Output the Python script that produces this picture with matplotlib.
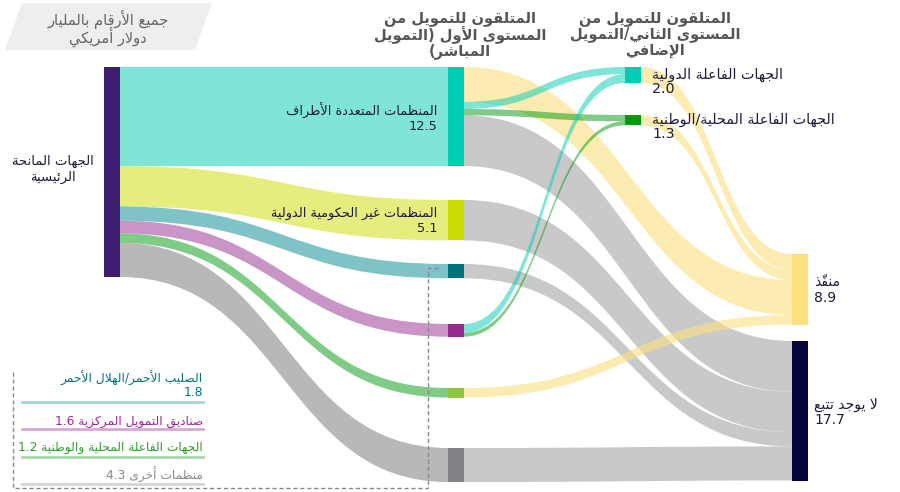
import matplotlib.pyplot as plt
from matplotlib.patches import PathPatch, Polygon, Rectangle
from matplotlib.path import Path

plt.rcParams["font.family"] = ["DejaVu Sans"]

# ---------------- data ----------------
unit_note = "جميع الأرقام بالمليار\nدولار أمريكي"
col_titles = [
    "المتلقون للتمويل من\nالمستوى الأول (التمويل\nالمباشر)",
    "المتلقون للتمويل من\nالمستوى الثاني/التمويل\nالإضافي",
]
node_names = [
    "الجهات المانحة\nالرئيسية",
    "المنظمات المتعددة الأطراف",
    "المنظمات غير الحكومية الدولية",
    "الصليب الأحمر/الهلال الأحمر",
    "صناديق التمويل المركزية",
    "الجهات الفاعلة المحلية والوطنية",
    "منظمات أخرى",
    "الجهات الفاعلة الدولية",
    "الجهات الفاعلة المحلية/الوطنية",
    "منفّذ",
    "لا يوجد تتبع",
]
node_values = [26.5, 12.5, 5.1, 1.8, 1.6, 1.2, 4.3, 2.0, 1.3, 8.9, 17.7]
# (source, target, value)
flows = [
    (0, 1, 12.5), (0, 2, 5.1), (0, 3, 1.8), (0, 4, 1.6), (0, 5, 1.2), (0, 6, 4.3),
    (1, 9, 4.4), (1, 7, 0.9), (1, 8, 0.8), (1, 10, 6.4),
    (2, 10, 5.1),
    (3, 10, 1.8),
    (4, 7, 1.1), (4, 8, 0.5),
    (5, 9, 1.2),
    (6, 10, 4.3),
    (7, 9, 2.0),
    (8, 9, 1.3),
]

# ---------------- layout / style ----------------
node_col = [0, 1, 1, 1, 1, 1, 1, 2, 2, 3, 3]
node_top = [67, 67, 200, 264, 324, 388, 448, 67, 115, 254, 341]
col_x = [104, 448, 625, 792]
node_w = 16
node_colors = ["#3c1f6e", "#00cdb4", "#cddc00", "#00737e", "#952a8e", "#8cc63f",
               "#828387", "#00cdb4", "#009a0e", "#fde07d", "#05053a"]
YEL, GRY, TEAL, GRN = "#fde07d", "#a5a5a8", "#00cdb4", "#009a0e"
flow_colors = ["#00cdb4", "#cddc00", "#00898f", "#952a8e", "#009a0e", "#727276",
               YEL, TEAL, GRN, GRY, GRY, GRY, TEAL, GRN, YEL, GRY, YEL, YEL]
alpha_of = {YEL: 0.6, GRY: 0.6}
z_of = {GRY: 2, YEL: 3, TEAL: 4, GRN: 4}
TXT = "#1b1b3a"

# ---------------- Arabic shaping (no bidi in matplotlib) ----------------
_codes = {'ء': 0xFE80, 'آ': 0xFE81, 'أ': 0xFE83, 'ؤ': 0xFE85, 'إ': 0xFE87, 'ئ': 0xFE89,
          'ا': 0xFE8D, 'ب': 0xFE8F, 'ة': 0xFE93, 'ت': 0xFE95, 'ث': 0xFE99, 'ج': 0xFE9D,
          'ح': 0xFEA1, 'خ': 0xFEA5, 'د': 0xFEA9, 'ذ': 0xFEAB, 'ر': 0xFEAD, 'ز': 0xFEAF,
          'س': 0xFEB1, 'ش': 0xFEB5, 'ص': 0xFEB9, 'ض': 0xFEBD, 'ط': 0xFEC1, 'ظ': 0xFEC5,
          'ع': 0xFEC9, 'غ': 0xFECD, 'ف': 0xFED1, 'ق': 0xFED5, 'ك': 0xFED9, 'ل': 0xFEDD,
          'م': 0xFEE1, 'ن': 0xFEE5, 'ه': 0xFEE9, 'و': 0xFEED, 'ى': 0xFEEF, 'ي': 0xFEF1}
_dual = set("ئبتثجحخسشصضطظعغفقكلمنهي")
_right = set("آأؤإادذرزوىة")
_lamalef = {'آ': 0xFEF5, 'أ': 0xFEF7, 'إ': 0xFEF9, 'ا': 0xFEFB}
_marks = set("\u064B\u064C\u064D\u064E\u064F\u0650\u0651\u0652")


def ar(line):
    units = []
    i = 0
    while i < len(line):
        c = line[i]
        if c in _marks and units:
            units[-1][2] += c
        elif c == 'ل' and i + 1 < len(line) and line[i + 1] in _lamalef:
            units.append(['R', _lamalef[line[i + 1]], ''])
            i += 1
        elif c in _codes:
            kind = 'D' if c in _dual else ('R' if c in _right else 'N')
            units.append([kind, _codes[c], ''])
        else:
            units.append(['X', c, ''])
        i += 1
    out = []
    for k, (kind, base, mk) in enumerate(units):
        if kind == 'X':
            out.append(base + mk)
            continue
        jp = k > 0 and units[k - 1][0] == 'D'
        jn = kind == 'D' and k + 1 < len(units) and units[k + 1][0] in 'DR'
        if kind == 'N':
            off = 0
        elif kind == 'R':
            off = 1 if jp else 0
        else:
            off = [[0, 2], [1, 3]][jp][jn]
        # mark placed before its base in visual (left-to-right) order
        out.append(mk + chr(base + off))
    out.reverse()
    res, run = [], []
    for g in out:
        if g[0].isdigit() or (g == '.' and run):
            run.append(g)
        else:
            if run:
                res.extend(reversed(run))
                run = []
            res.append({'(': ')', ')': '('}.get(g, g))
    res.extend(reversed(run))
    return ''.join(res)


def lines(x, y, text, dy, **kw):
    for k, ln in enumerate(text.split("\n")):
        ax.text(x, y + k * dy, ar(ln), va="center", **kw)


# ---------------- figure ----------------
fig = plt.figure(figsize=(9, 4.92), dpi=100)
ax = fig.add_axes([0, 0, 1, 1])
ax.set_xlim(0, 900)
ax.set_ylim(492, 0)
ax.axis("off")

scale = 210 / node_values[0]
n = len(node_values)
out_off = [0.0] * n
in_off = [0.0] * n
src_y = []
for s, t, v in flows:
    src_y.append(node_top[s] + out_off[s])
    out_off[s] += v * scale
tgt_y = [0.0] * len(flows)
for t in range(n):
    idx = [i for i, f in enumerate(flows) if f[1] == t]
    idx.sort(key=lambda i: (-node_col[flows[i][0]], node_top[flows[i][0]]))
    for i in idx:
        tgt_y[i] = node_top[t] + in_off[t]
        in_off[t] += flows[i][2] * scale


def band(x0, y0, x1, y1, h, color, alpha, z):
    xm = (x0 + x1) / 2
    verts = [(x0, y0), (xm, y0), (xm, y1), (x1, y1), (x1, y1 + h),
             (xm, y1 + h), (xm, y0 + h), (x0, y0 + h), (x0, y0)]
    codes = [Path.MOVETO, Path.CURVE4, Path.CURVE4, Path.CURVE4, Path.LINETO,
             Path.CURVE4, Path.CURVE4, Path.CURVE4, Path.CLOSEPOLY]
    ax.add_patch(PathPatch(Path(verts, codes), fc=color, ec="none", alpha=alpha, zorder=z))


for i, (s, t, v) in enumerate(flows):
    c = flow_colors[i]
    band(col_x[node_col[s]] + node_w, src_y[i], col_x[node_col[t]], tgt_y[i], v * scale,
         c, alpha_of.get(c, 0.5), 1 if s == 0 else z_of.get(c, 2))

for k in range(n):
    ax.add_patch(Rectangle((col_x[node_col[k]], node_top[k]), node_w, node_values[k] * scale,
                           fc=node_colors[k], ec="none", zorder=6))

# unit note box
ax.add_patch(Polygon([(22, 3), (212, 3), (195, 50), (5, 50)], closed=True,
                     fc="#eeeeee", ec="none", zorder=0))
lines(108, 19, unit_note, 18, ha="center", fontsize=10.5, color="#666666")

# column headings
lines(460, 19, col_titles[0], 16, ha="center", fontsize=10.5, color="#555555", fontweight="bold")
lines(655, 18, col_titles[1], 16, ha="center", fontsize=10.5, color="#555555", fontweight="bold")

# node labels
lines(53, 161, node_names[0], 16, ha="center", fontsize=9.5, color=TXT)
lines(437, 111, f"{node_names[1]}\n{node_values[1]}", 15, ha="right", fontsize=9.3, color=TXT)
lines(437, 213, f"{node_names[2]}\n{node_values[2]}", 15, ha="right", fontsize=9.3, color=TXT)
lines(652, 75, f"{node_names[7]}\n{node_values[7]}", 14, ha="left", fontsize=10.3, color=TXT)
lines(652, 120, f"{node_names[8]}\n{node_values[8]}", 14, ha="left", fontsize=10.3, color=TXT)
lines(814, 282, f"{node_names[9]}\n{node_values[9]}", 16, ha="left", fontsize=10, color=TXT)
lines(814, 405, f"{node_names[10]}\n{node_values[10]}", 15, ha="left", fontsize=10, color=TXT)

# legend block for the small first-level recipients
leg_text_col = ["#00737e", "#952a8e", "#2a9f2a", "#888888"]
leg_line_col = ["#a6d6d9", "#d8a8d4", "#a8dcaa", "#d6d6d6"]
lines(203, 378, f"{node_names[3]}\n{node_values[3]}", 15, ha="right", fontsize=8.8, color=leg_text_col[0])
ax.plot([22, 203], [402, 402], color=leg_line_col[0], lw=2)
for k, (node, yy, yl) in enumerate([(4, 422, 429), (5, 448, 457), (6, 475, 484)], start=1):
    lines(203, yy, f"{node_names[node]} {node_values[node]}", 15, ha="right", fontsize=8.8,
          color=leg_text_col[k])
    ax.plot([22, 203], [yl, yl], color=leg_line_col[k], lw=2)

dash = dict(color="#8a8a8a", lw=1, ls=(0, (3, 2)))
ax.plot([13, 13, 428, 428, 440], [372, 488, 488, 268, 268], **dash)

fig.savefig("out.png", dpi=100)
